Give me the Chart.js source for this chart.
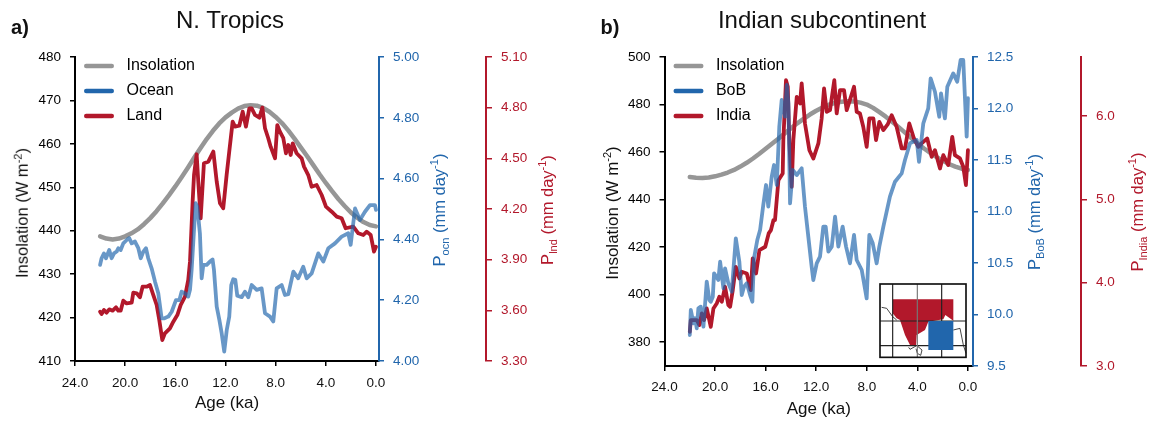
<!DOCTYPE html>
<html>
<head>
<meta charset="utf-8">
<script src="https://cdn.jsdelivr.net/npm/chart.js@4/dist/chart.umd.js"></script>
<style>
  html, body { margin: 0; padding: 0; background: #fff; }
  #page { position: relative; width: 1154px; height: 422px; overflow: hidden; font-family: "Liberation Sans", Arial, sans-serif; color: #111; }
  canvas { position: absolute; top: 0; }
  .lbl { position: absolute; white-space: nowrap; transform: translate(-50%, -50%); line-height: 1; }
  .rot { transform: translate(-50%, -50%) rotate(-90deg); font-size: 16.5px; }
  .titulo { font-size: 24px; }
  .painel { font-size: 20px; font-weight: bold; }
  .azul { color: #2166ac; }
  .verm { color: #b2182b; }
  sup, sub { font-size: 11px; line-height: 0; }
  #mapa { position: absolute; left: 860px; top: 270px; }
</style>
</head>
<body>
<div id="page">
  <canvas id="graficoA" width="577" height="422" style="left:0"></canvas>
  <canvas id="graficoB" width="577" height="422" style="left:577px"></canvas>

  <div class="lbl painel" style="left:20px;top:27px">a)</div>
  <div class="lbl titulo" style="left:230px;top:20px">N. Tropics</div>
  <div class="lbl rot" style="left:22px;top:213px">Insolation (W m<sup>-2</sup>)</div>
  <div class="lbl rot azul" style="left:439px;top:210px">P<sub>ocn</sub> (mm day<sup>-1</sup>)</div>
  <div class="lbl rot verm" style="left:547px;top:210px">P<sub>lnd</sub> (mm day<sup>-1</sup>)</div>

  <div class="lbl painel" style="left:610px;top:27px">b)</div>
  <div class="lbl titulo" style="left:822px;top:20px">Indian subcontinent</div>
  <div class="lbl rot" style="left:612px;top:213px;font-size:17px">Insolation (W m<sup>-2</sup>)</div>
  <div class="lbl rot azul" style="left:1034px;top:212px">P<sub>BoB</sub> (mm day<sup>-1</sup>)</div>
  <div class="lbl rot verm" style="left:1137px;top:212px">P<sub>India</sub> (mm day<sup>-1</sup>)</div>

  <svg id="mapa" width="120" height="100" viewBox="0 0 360 300">
    <rect x="60" y="42" width="258" height="220" fill="#fff"/>
    <path d="M98 88H280V152L256 135L250 148L205 155L195 180L170 195L168 228L150 225L135 195L120 150L110 145L98 130Z" fill="#b2182b"/>
    <path d="M65 112L80 115L98 140L110 150M168 228L150 238L146 232M172 228L186 240L182 256L172 250L168 236M280 180L300 175L310 225L318 250" fill="none" stroke="#222" stroke-width="2.5"/>
    <path d="M98 42V262M245 42V262M60 153H318M60 227H318" stroke="#222" stroke-width="3.5"/>
    <path d="M172 42V262" stroke="#777" stroke-width="3.5"/>
    <rect x="205" y="153" width="75" height="87" fill="#2166ac"/>
    <rect x="60" y="42" width="258" height="220" fill="none" stroke="#111" stroke-width="5"/>
  </svg>
</div>

<script>
// marcas dos eixos
const ticksIdade = [24, 20, 16, 12, 8, 4, 0];
const ticksInsolA = [410, 420, 430, 440, 450, 460, 470, 480];
const ticksOcean = [4.0, 4.2, 4.4, 4.6, 4.8, 5.0];
const ticksLand = [3.3, 3.6, 3.9, 4.2, 4.5, 4.8, 5.1];
const ticksInsolB = [380, 400, 420, 440, 460, 480, 500];
const ticksBoB = [9.5, 10, 10.5, 11, 11.5, 12, 12.5];
const ticksIndia = [3, 4, 5, 6];

// painel a) N. Tropics
const idadeInsolA = [22,21.5,21,20.5,20,19.5,19,18.5,18,17.5,17,16.5,16,15.5,15,14.5,14,13.5,13,12.5,12,11.5,11,10.5,10,9.5,9,8.5,8,7.5,7,6.5,6,5.5,5,4.5,4,3.5,3,2.5,2,1.5,1,0.5,0];
const insolA = [438.7,438.2,438.0,438.2,438.7,439.4,440.3,441.5,442.9,444.5,446.3,448.2,450.2,452.3,454.5,456.8,459.0,461.1,463.0,464.7,466.1,467.2,468.1,468.7,468.9,468.8,468.3,467.4,466.2,464.8,463.1,461.2,459.2,457.2,455.1,453.0,451.0,449.1,447.3,445.7,444.2,443.0,442.0,441.3,441.0];

const idadeOcean = [22,21.88,21.69,21.53,21.27,21.08,20.89,20.68,20.55,20.36,20.15,19.88,19.67,19.48,19.22,18.95,18.76,18.55,18.34,18.16,17.89,17.62,17.36,17.09,16.91,16.56,16.29,15.95,15.68,15.5,15.23,14.97,14.83,14.7,14.51,14.38,14.25,14.04,13.9,13.77,13.5,13.24,13.03,12.92,12.7,12.49,12.3,12.1,11.9,11.7,11.54,11.38,11.22,11.06,10.71,10.45,10.18,9.91,9.51,9.12,8.85,8.45,8.19,7.92,7.52,7.26,6.99,6.59,6.2,5.8,5.53,5.13,4.6,4.2,3.8,3.27,2.74,2.21,2.02,1.67,1.28,0.88,0.48,0.08,0];
const ocean = [4.316,4.338,4.354,4.338,4.365,4.338,4.354,4.36,4.371,4.365,4.387,4.398,4.404,4.387,4.393,4.371,4.338,4.36,4.371,4.338,4.305,4.261,4.223,4.14,4.14,4.146,4.162,4.2,4.2,4.228,4.223,4.212,4.234,4.3,4.431,4.519,4.508,4.42,4.272,4.316,4.316,4.327,4.334,4.3,4.179,4.135,4.09,4.031,4.102,4.146,4.25,4.269,4.267,4.215,4.21,4.228,4.21,4.25,4.234,4.239,4.157,4.146,4.13,4.239,4.25,4.217,4.22,4.294,4.272,4.31,4.272,4.288,4.354,4.327,4.371,4.387,4.409,4.42,4.382,4.502,4.464,4.491,4.513,4.513,4.497];

const idadeLand = [22,21.88,21.69,21.48,21.27,21,20.73,20.55,20.36,20.15,19.88,19.48,19.35,19.08,18.82,18.61,18.29,18.02,17.76,17.49,17.28,17.04,16.83,16.43,16.16,15.84,15.57,15.23,14.97,14.83,14.62,14.51,14.3,14.17,13.98,13.72,13.37,12.97,12.7,12.44,12.18,11.91,11.7,11.43,11.24,10.9,10.63,10.37,10.1,9.91,9.65,9.3,9.06,8.85,8.59,8.4,8.05,7.87,7.66,7.39,7.18,6.99,6.8,6.64,6.33,5.93,5.74,5.4,5.13,4.73,4.33,3.99,3.53,3.13,2.74,2.42,1.81,1.41,1.01,0.74,0.42,0.16,0];
const land = [3.592,3.578,3.602,3.586,3.606,3.598,3.618,3.598,3.598,3.657,3.641,3.645,3.705,3.701,3.677,3.74,3.74,3.75,3.691,3.632,3.543,3.424,3.464,3.493,3.533,3.572,3.632,3.681,3.78,3.888,4.244,4.401,4.524,4.362,4.145,4.471,4.48,4.54,4.362,4.234,4.204,4.401,4.54,4.717,4.688,4.693,4.776,4.688,4.796,4.796,4.757,4.741,4.8,4.678,4.619,4.569,4.5,4.697,4.658,4.619,4.53,4.579,4.52,4.589,4.53,4.5,4.451,4.401,4.332,4.342,4.283,4.214,4.184,4.155,4.145,4.086,4.096,4.056,4.046,4.066,4.046,3.948,3.977];

// painel b) Indian subcontinent
const idadeInsolB = [22,21.5,21,20.5,20,19.5,19,18.5,18,17.5,17,16.5,16,15.5,15,14.5,14,13.5,13,12.5,12,11.5,11,10.5,10,9.5,9,8.5,8,7.5,7,6.5,6,5.5,5,4.5,4,3.5,3,2.5,2,1.5,1,0.5,0];
const insolB = [449.5,449.2,449.1,449.3,449.8,450.5,451.4,452.5,453.9,455.5,457.3,459.3,461.4,463.5,465.6,467.8,470,472.1,474,475.8,477.4,478.8,479.9,480.7,481.2,481.4,481.3,480.8,480,478.6,476.8,474.9,472.8,470.6,468.3,466,463.7,461.6,459.7,458,456.4,455,453.9,453,452.5];

const idadeBoB = [22,21.92,21.71,21.58,21.45,21.32,21.13,20.92,20.66,20.45,20.34,20.18,20.08,19.74,19.6,19.34,19.21,18.95,18.68,18.55,18.36,18.08,17.89,17.71,17.49,17.23,17.05,16.92,16.66,16.44,16.2,15.97,15.79,15.52,15.34,15.12,14.92,14.73,14.47,14.33,14.2,14.07,13.86,13.54,13.15,12.89,12.62,12.36,12.23,11.96,11.7,11.44,11.25,11.04,10.77,10.51,10.25,9.91,9.64,9.33,9.01,8.8,8.4,8.01,7.8,7.53,7.22,7.01,6.69,6.17,5.77,5.24,4.98,4.58,4.05,3.87,3.53,3.14,2.95,2.61,2.27,2.13,1.82,1.63,1.16,0.85,0.58,0.37,0.1,0];
const bob = [9.801,10.044,9.914,9.963,9.866,10.06,10.076,9.882,10.319,10.141,10.124,10.173,10.4,10.335,10.513,10.254,10.448,10.303,10.222,10.432,10.74,10.513,10.189,10.27,10.303,10.189,10.124,10.545,10.723,10.82,11.05,11.257,11.047,11.338,11.451,11.257,11.824,12.083,11.921,12.228,12.05,11.079,11.403,11.354,11.419,11.047,10.75,10.464,10.335,10.497,10.561,10.853,10.853,10.61,10.659,10.95,10.659,10.853,10.659,10.497,10.772,10.529,10.432,10.157,10.772,10.691,10.497,10.659,10.852,11.144,11.289,11.37,11.5,11.662,11.694,11.483,11.856,12.001,12.293,12.163,11.92,12.147,11.904,12.212,12.341,12.26,12.471,12.471,11.726,12.1];

const idadeIndia = [22,21.92,21.71,21.45,21.24,21.05,20.87,20.66,20.34,20.13,19.87,19.66,19.47,19.21,18.95,18.81,18.6,18.36,18.08,17.89,17.49,17.18,17.02,16.76,16.49,16.03,15.76,15.58,15.38,15.26,14.99,14.65,14.6,14.39,14.25,14.12,13.94,13.81,13.54,13.28,13.15,12.89,12.54,12.23,11.83,11.57,11.38,11.17,10.91,10.57,10.38,10.12,9.8,9.59,9.38,9.01,8.8,8.54,8.28,8.01,7.8,7.48,7.27,7.01,6.69,6.35,6.03,5.64,5.24,4.98,4.64,4.27,3.93,3.66,3.22,2.87,2.61,2.21,1.95,1.56,1.24,1.03,0.63,0.37,0.16,0];
const india = [3.411,3.551,3.551,3.551,3.491,3.631,3.551,3.691,3.471,3.691,3.751,3.831,3.771,3.951,3.731,3.711,3.911,4.191,4.051,4.131,4.111,3.911,4.292,4.111,4.392,4.432,4.592,4.632,4.752,4.751,5.231,5.311,5.712,6.432,6.352,5.672,5.151,5.712,6.232,6.152,6.392,5.912,5.591,5.491,5.672,5.972,6.332,6.052,6.072,6.432,6.032,6.312,6.312,6.072,6.172,6.352,6.052,6.032,5.872,5.632,5.972,5.972,5.712,5.932,5.832,5.9,6.012,5.872,5.612,5.612,5.912,5.732,5.632,5.672,5.732,5.512,5.592,5.372,5.532,5.412,5.752,5.532,5.492,5.392,5.172,5.592];

const CINZA = '#969696';
const AZUL = '#2166ac';
const AZUL_LINHA = 'rgba(33, 102, 172, 0.68)';
const VERMELHO = '#b2182b';
const FONTE = '"Liberation Sans", Arial, sans-serif';

function pontos(idades, valores) {
  return idades.map((idade, i) => ({ x: idade, y: valores[i] }));
}

function eixoY(posicao, peso, largura, cor, marcas, casas, min, max, tamTick) {
  return {
    type: 'linear',
    position: posicao,
    weight: peso,
    min: min,
    max: max,
    afterBuildTicks: (escala) => { escala.ticks = marcas.map(v => ({ value: v })); },
    afterFit: (escala) => { escala.width = largura; },
    border: { display: true, color: cor, width: 2 },
    grid: { drawOnChartArea: false, drawTicks: true, color: cor, lineWidth: 1.5, tickLength: tamTick },
    ticks: {
      color: cor,
      padding: 9,
      font: { family: FONTE, size: 13.5 },
      callback: (v) => casas === null ? String(v) : v.toFixed(casas),
    },
  };
}

function montarGrafico(idCanvas, cfg) {
  const cores = [CINZA, AZUL, VERMELHO];
  return new Chart(document.getElementById(idCanvas), {
    type: 'line',
    data: {
      datasets: [
        { label: 'Insolation', data: cfg.insol, yAxisID: 'y', borderColor: CINZA, borderWidth: 4.5, order: 3 },
        { label: cfg.nomeAzul, data: cfg.azul, yAxisID: 'yAzul', borderColor: AZUL_LINHA, borderWidth: 3.8, order: 1 },
        { label: cfg.nomeVerm, data: cfg.verm, yAxisID: 'yVerm', borderColor: VERMELHO, borderWidth: 3.8, order: 2 },
      ],
    },
    options: {
      responsive: false,
      animation: false,
      devicePixelRatio: 1,
      layout: { padding: { top: 57, left: 0, right: 0, bottom: 0 } },
      elements: {
        point: { radius: 0 },
        line: { tension: 0, borderJoinStyle: 'round', borderCapStyle: 'round' },
      },
      plugins: {
        tooltip: { enabled: false },
        legend: {
          position: 'chartArea',
          align: 'start',
          labels: {
            boxWidth: 30,
            boxHeight: 4.5,
            padding: 9,
            color: '#111',
            useBorderRadius: true,
            borderRadius: 2.2,
            font: { family: FONTE, size: 16 },
            generateLabels: (chart) => chart.data.datasets.map((d, i) => ({
              text: ' ' + d.label,
              fillStyle: cores[i],
              strokeStyle: cores[i],
              lineWidth: 0,
              borderRadius: 2.2,
              datasetIndex: i,
            })),
          },
        },
      },
      scales: {
        x: {
          type: 'linear',
          reverse: true,
          min: cfg.xMin,
          max: 24,
          afterBuildTicks: (escala) => { escala.ticks = ticksIdade.map(v => ({ value: v })); },
          afterFit: (escala) => { escala.height = cfg.altX; },
          border: { display: true, color: '#000', width: 2 },
          grid: { drawOnChartArea: false, drawTicks: true, color: '#000', lineWidth: 1.5, tickLength: 5 },
          ticks: {
            color: '#111',
            padding: cfg.padX,
            autoSkip: false,
            maxRotation: 0,
            font: { family: FONTE, size: 13.5 },
            callback: (v) => v.toFixed(1),
          },
          title: {
            display: true,
            text: 'Age (ka)',
            color: '#111',
            font: { family: FONTE, size: 17 },
            padding: { top: 0, bottom: cfg.padTitulo },
          },
        },
        y: eixoY('left', 0, cfg.largEsq, '#000', cfg.ticksInsol, null, cfg.insolMin, cfg.insolMax, 5),
        yAzul: eixoY('right', 0, cfg.largAzul, AZUL, cfg.ticksAzul, cfg.casasAzul, cfg.azulMin, cfg.azulMax, 5),
        yVerm: eixoY('right', 1, cfg.largVerm, VERMELHO, cfg.ticksVerm, cfg.casasVerm, cfg.vermMin, cfg.vermMax, 6),
      },
    },
    plugins: [{
      // legenda vertical perde o top da area do grafico, entao recoloca aqui
      id: 'legendaNoTopo',
      afterLayout: (chart) => { chart.legend.top = chart.chartArea.top - 8; },
    }],
  });
}

montarGrafico('graficoA', {
  insol: pontos(idadeInsolA, insolA),
  azul: pontos(idadeOcean, ocean),
  verm: pontos(idadeLand, land),
  nomeAzul: 'Ocean', nomeVerm: 'Land',
  xMin: -0.24, altX: 61, padX: 9, padTitulo: 8,
  largEsq: 75, largAzul: 107, largVerm: 91,
  ticksInsol: ticksInsolA, insolMin: 410, insolMax: 480,
  ticksAzul: ticksOcean, casasAzul: 2, azulMin: 4, azulMax: 5,
  ticksVerm: ticksLand, casasVerm: 2, vermMin: 3.3, vermMax: 5.1,
});

montarGrafico('graficoB', {
  insol: pontos(idadeInsolB, insolB),
  azul: pontos(idadeBoB, bob),
  verm: pontos(idadeIndia, india),
  nomeAzul: 'BoB', nomeVerm: 'India',
  xMin: -0.4, altX: 56, padX: 8, padTitulo: 2,
  largEsq: 87.5, largAzul: 108, largVerm: 73,
  ticksInsol: ticksInsolB, insolMin: 370, insolMax: 500,
  ticksAzul: ticksBoB, casasAzul: 1, azulMin: 9.5, azulMax: 12.5,
  ticksVerm: ticksIndia, casasVerm: 1, vermMin: 3, vermMax: 6.71,
});
</script>
</body>
</html>
